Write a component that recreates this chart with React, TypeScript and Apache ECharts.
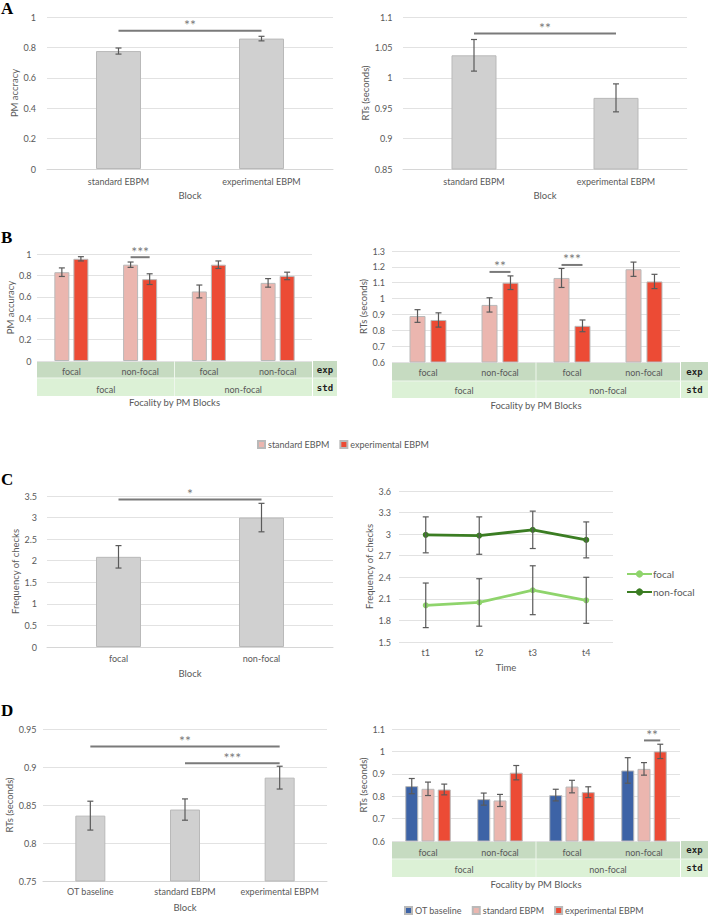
import React, { useEffect, useRef } from "react";
import * as echarts from "echarts";

// ---------- Panel A ----------
const blockAB = ["standard EBPM", "experimental EBPM"];
const pmAccuracyA = [0.776, 0.858];
const pmAccuracyErrA = [0.02, 0.015];
const rtA = [1.037, 0.967];
const rtErrA = [0.026, 0.023];

// ---------- Panel B ----------
const focalityExp = ["focal", "non-focal", "focal", "non-focal"];
const focalityStd = ["focal", "non-focal"];
const pmAccStdB = [0.83, 0.9, 0.65, 0.73];
const pmAccStdErrB = [0.04, 0.025, 0.06, 0.04];
const pmAccExpB = [0.955, 0.765, 0.9, 0.795];
const pmAccExpErrB = [0.02, 0.05, 0.035, 0.035];
const rtStdB = [0.89, 0.96, 1.13, 1.185];
const rtStdErrB = [0.04, 0.045, 0.06, 0.045];
const rtExpB = [0.865, 1.1, 0.828, 1.108];
const rtExpErrB = [0.045, 0.043, 0.037, 0.045];

// ---------- Panel C ----------
const blockC = ["focal", "non-focal"];
const checksC = [2.09, 3.0];
const checksErrC = [0.26, 0.33];
const timePoints = ["t1", "t2", "t3", "t4"];
const checksFocal = [2.01, 2.05, 2.22, 2.08];
const checksFocalErr = [0.31, 0.33, 0.34, 0.32];
const checksNonFocal = [2.99, 2.98, 3.06, 2.92];
const checksNonFocalErr = [0.25, 0.26, 0.26, 0.25];

// ---------- Panel D ----------
const blockD = ["OT baseline", "standard EBPM", "experimental EBPM"];
const rtD = [0.836, 0.844, 0.886];
const rtErrD = [0.019, 0.014, 0.015];
const rtOtD = [0.845, 0.787, 0.805, 0.915];
const rtOtErrD = [0.034, 0.027, 0.026, 0.057];
const rtStdD = [0.833, 0.781, 0.843, 0.922];
const rtStdErrD = [0.03, 0.027, 0.028, 0.028];
const rtExpD = [0.83, 0.905, 0.818, 1.0];
const rtExpErrD = [0.024, 0.032, 0.024, 0.032];

// Significance marks: [fromCategory, fromBarSlot, toCategory, toBarSlot, y, stars]
const sigAccA = [[0, 0, 1, 0, 0.91, "**"]];
const sigRtA = [[0, 0, 1, 0, 1.073, "**"]];
const sigAccB = [[1, 0, 1, 1, 0.97, "***"]];
const sigRtB = [
  [1, 0, 1, 1, 1.168, "**"],
  [2, 0, 2, 1, 1.212, "***"],
];
const sigChecksC = [[0, 0, 1, 0, 3.42, "*"]];
const sigRtD = [
  [0, 0, 2, 0, 0.927, "**"],
  [1, 0, 2, 0, 0.905, "***"],
];
const sigRtDGroups = [[3, 1, 3, 2, 1.049, "**"]];

// ---------- styling ----------
const FONT = "Lato";
const TEXT = "#595959";
const GRIDLINE = "#e2e2e2";
const GRAY_BAR = "#d0d0d0";
const PINK = "#ebb6af";
const RED = "#ec4b35";
const BLUE = "#3d63a6";
const LIGHT_GREEN = "#8fd46c";
const DARK_GREEN = "#3b7d23";
const EXP_ROW = "#c6dbc1";
const STD_ROW = "#dcf1d6";

const G = [
  { left: 47, top: 17, width: 286, height: 152 }, // A left
  { left: 403, top: 17, width: 284, height: 152 }, // A right
  { left: 37, top: 254, width: 275, height: 107 }, // B left
  { left: 392, top: 251, width: 288, height: 111 }, // B right
  { left: 47, top: 496, width: 286, height: 151 }, // C left
  { left: 399, top: 491, width: 214, height: 151 }, // C right
  { left: 43, top: 729, width: 284, height: 152 }, // D left
  { left: 392, top: 729, width: 288, height: 112 }, // D right
];

const nameStyle = { color: TEXT, fontSize: 9.5, fontFamily: FONT };

function yAxis(gridIndex: number, min: number, max: number, interval: number, name: string, nameGap: number, margin: number) {
  return {
    type: "value",
    gridIndex,
    min,
    max,
    interval,
    name,
    nameLocation: "middle",
    nameGap,
    nameTextStyle: nameStyle,
    axisLine: { show: false },
    axisTick: { show: false },
    axisLabel: { color: TEXT, fontSize: 9, fontFamily: FONT, margin },
    splitLine: { lineStyle: { color: GRIDLINE, width: 1 } },
  };
}

function xAxis(gridIndex: number, data: string[], margin: number, name: string, nameGap: number, showLine: boolean) {
  return {
    type: "category",
    gridIndex,
    data,
    position: "bottom",
    axisLine: { show: showLine, lineStyle: { color: "#d6d6d6", width: 1 } },
    axisTick: { show: false },
    splitLine: { show: false },
    axisLabel: { color: TEXT, fontSize: 9, fontFamily: FONT, margin, interval: 0 },
    name,
    nameLocation: "middle",
    nameGap,
    nameTextStyle: nameStyle,
  };
}

function bars(name: string, xi: number, yi: number, data: number[], color: string, barWidth: number, barGap = "0%") {
  return {
    type: "bar",
    name,
    xAxisIndex: xi,
    yAxisIndex: yi,
    data,
    barWidth,
    barGap,
    itemStyle: { color, borderColor: "#b9b9b9", borderWidth: 1 },
    z: 2,
  };
}

// Error whiskers centred on a bar slot inside a category
function errors(xi: number, yi: number, values: number[], errs: number[], slot: number, slotCount: number, step: number, cap = 6) {
  return {
    type: "custom",
    xAxisIndex: xi,
    yAxisIndex: yi,
    silent: true,
    z: 4,
    encode: { x: 0, y: [1, 2] },
    data: values.map((v, i) => [i, v - errs[i], v + errs[i]]),
    renderItem: (_p: any, api: any) => {
      const off = (slot - (slotCount - 1) / 2) * step;
      const lo = api.coord([api.value(0), api.value(1)]);
      const hi = api.coord([api.value(0), api.value(2)]);
      const x = lo[0] + off;
      const st = { stroke: "#5a5a5a", lineWidth: 1.2 };
      return {
        type: "group",
        children: [
          { type: "line", shape: { x1: x, y1: lo[1], x2: x, y2: hi[1] }, style: st },
          { type: "line", shape: { x1: x - cap / 2, y1: lo[1], x2: x + cap / 2, y2: lo[1] }, style: st },
          { type: "line", shape: { x1: x - cap / 2, y1: hi[1], x2: x + cap / 2, y2: hi[1] }, style: st },
        ],
      };
    },
  };
}

// Significance brackets drawn between two bar slots
function sig(xi: number, yi: number, marks: any[], slotCount: number, step: number) {
  return {
    type: "custom",
    xAxisIndex: xi,
    yAxisIndex: yi,
    silent: true,
    z: 5,
    encode: { x: [0, 1], y: 2 },
    data: marks.map((m) => [m[0], m[2], m[4]]),
    renderItem: (p: any, api: any) => {
      const m = marks[p.dataIndex];
      const off = (s: number) => (s - (slotCount - 1) / 2) * step;
      const a = api.coord([api.value(0), api.value(2)]);
      const b = api.coord([api.value(1), api.value(2)]);
      const x1 = a[0] + off(m[1]);
      const x2 = b[0] + off(m[3]);
      return {
        type: "group",
        children: [
          { type: "line", shape: { x1, y1: a[1], x2, y2: a[1] }, style: { stroke: "#7a7a7a", lineWidth: 2 } },
          {
            type: "text",
            style: {
              text: m[5],
              x: (x1 + x2) / 2,
              y: a[1] + 1,
              align: "center",
              verticalAlign: "bottom",
              fill: "#7a7a7a",
              fontSize: 14,
              fontFamily: FONT,
            },
          },
        ],
      };
    },
  };
}

// Two-level category table under the grouped bar panels
function table(g: any, expH: number, stdH: number, colLeft: number, colRight: number, expTextY: number, stdTextY: number) {
  const top = g.top + g.height;
  const mid = g.left + g.width / 2;
  const colMid = (colLeft + colRight) / 2;
  const labelFont = { fontSize: 9, fontFamily: "DejaVu Sans Mono", fontWeight: "bold", fill: "#1f1f1f" };
  return [
    { type: "rect", silent: true, z: 0, shape: { x: g.left, y: top, width: g.width, height: expH }, style: { fill: EXP_ROW } },
    { type: "rect", silent: true, z: 0, shape: { x: g.left, y: top + expH, width: g.width, height: stdH }, style: { fill: STD_ROW } },
    { type: "rect", silent: true, z: 0, shape: { x: colLeft, y: top, width: colRight - colLeft, height: expH }, style: { fill: EXP_ROW } },
    { type: "rect", silent: true, z: 0, shape: { x: colLeft, y: top + expH, width: colRight - colLeft, height: stdH }, style: { fill: STD_ROW } },
    { type: "line", silent: true, z: 1, shape: { x1: g.left, y1: top + expH, x2: colRight, y2: top + expH }, style: { stroke: "#eef6ec", lineWidth: 1 } },
    { type: "line", silent: true, z: 1, shape: { x1: mid, y1: top, x2: mid, y2: top + expH + stdH }, style: { stroke: "#eef6ec", lineWidth: 1 } },
    { type: "text", silent: true, z: 2, style: { text: "exp", x: colMid, y: expTextY, align: "center", verticalAlign: "middle", ...labelFont } },
    { type: "text", silent: true, z: 2, style: { text: "std", x: colMid, y: stdTextY, align: "center", verticalAlign: "middle", ...labelFont } },
  ];
}

function letter(text: string, y: number) {
  return {
    type: "text",
    silent: true,
    style: {
      text,
      x: 1,
      y,
      align: "left",
      verticalAlign: "middle",
      fontSize: 17,
      fontWeight: "bold",
      fontFamily: "Liberation Serif",
      fill: "#000",
    },
  };
}

const STEP_B_L = 15 * 1.27;
const STEP_B_R = 16 * 1.31;
const STEP_D_R = 13 * 1.25;

const legendText = { color: TEXT, fontSize: 9, fontFamily: FONT, padding: [0, 0, 0, -2] };

function buildOption() {
  return {
    animation: false,
    backgroundColor: "#ffffff",
    textStyle: { fontFamily: FONT },
    grid: G.map((g) => ({ ...g, containLabel: false })),
    xAxis: [
      xAxis(0, blockAB, 7.5, "Block", 21, true), // 0
      xAxis(1, blockAB, 7.5, "Block", 21, true), // 1
      xAxis(2, focalityExp, 6, "", 0, false), // 2
      xAxis(2, focalityStd, 23.5, "Focality by PM Blocks", 36.5, false), // 3
      xAxis(3, focalityExp, 5.5, "", 0, false), // 4
      xAxis(3, focalityStd, 24, "Focality by PM Blocks", 38.5, false), // 5
      xAxis(4, blockC, 7, "Block", 21.5, true), // 6
      xAxis(5, timePoints, 6, "Time", 20.5, false), // 7
      xAxis(6, blockD, 6, "Block", 21.5, true), // 8
      xAxis(7, focalityExp, 6.5, "", 0, false), // 9
      xAxis(7, focalityStd, 23.8, "Focality by PM Blocks", 38.5, false), // 10
    ],
    yAxis: [
      yAxis(0, 0, 1, 0.2, "PM accracy", 23, 11),
      yAxis(1, 0.85, 1.1, 0.05, "RTs (seconds)", 27.5, 10.5),
      yAxis(2, 0, 1, 0.2, "PM accuracy", 22, 5.5),
      yAxis(3, 0.6, 1.3, 0.1, "RTs (seconds)", 23, 7),
      yAxis(4, 0, 3.5, 0.5, "Frequency of checks", 24, 10),
      yAxis(5, 1.5, 3.6, 0.3, "Frequency of checks", 23.5, 8),
      yAxis(6, 0.75, 0.95, 0.05, "RTs (seconds)", 25, 6.5),
      yAxis(7, 0.6, 1.1, 0.1, "RTs (seconds)", 23, 7),
    ],
    legend: [
      {
        data: ["standard EBPM", "experimental EBPM"],
        left: 257,
        top: 440,
        padding: 0,
        itemWidth: 7,
        itemHeight: 7,
        itemGap: 10,
        icon: "rect",
        selectedMode: false,
        textStyle: legendText,
      },
      {
        data: ["focal", "non-focal"],
        orient: "vertical",
        left: 626,
        top: 569,
        padding: 0,
        itemWidth: 25,
        itemHeight: 9,
        itemGap: 8,
        selectedMode: false,
        textStyle: { color: TEXT, fontSize: 10, fontFamily: FONT, padding: [0, 0, 0, -4] },
      },
      {
        data: ["OT baseline", "standard EBPM", "experimental EBPM"],
        left: 404,
        top: 906,
        padding: 0,
        itemWidth: 7,
        itemHeight: 7,
        itemGap: 10,
        icon: "rect",
        selectedMode: false,
        textStyle: legendText,
      },
    ],
    series: [
      // A
      bars("PM accuracy", 0, 0, pmAccuracyA, GRAY_BAR, 45),
      errors(0, 0, pmAccuracyA, pmAccuracyErrA, 0, 1, 0),
      sig(0, 0, sigAccA, 1, 0),
      bars("RTs", 1, 1, rtA, GRAY_BAR, 45),
      errors(1, 1, rtA, rtErrA, 0, 1, 0),
      sig(1, 1, sigRtA, 1, 0),
      // B
      bars("standard EBPM", 2, 2, pmAccStdB, PINK, 15, "27%"),
      bars("experimental EBPM", 2, 2, pmAccExpB, RED, 15, "27%"),
      errors(2, 2, pmAccStdB, pmAccStdErrB, 0, 2, STEP_B_L),
      errors(2, 2, pmAccExpB, pmAccExpErrB, 1, 2, STEP_B_L),
      sig(2, 2, sigAccB, 2, STEP_B_L),
      bars("standard EBPM", 4, 3, rtStdB, PINK, 16, "31%"),
      bars("experimental EBPM", 4, 3, rtExpB, RED, 16, "31%"),
      errors(4, 3, rtStdB, rtStdErrB, 0, 2, STEP_B_R),
      errors(4, 3, rtExpB, rtExpErrB, 1, 2, STEP_B_R),
      sig(4, 3, sigRtB, 2, STEP_B_R),
      // C
      bars("Checks", 6, 4, checksC, GRAY_BAR, 45),
      errors(6, 4, checksC, checksErrC, 0, 1, 0),
      sig(6, 4, sigChecksC, 1, 0),
      {
        type: "line",
        name: "focal",
        xAxisIndex: 7,
        yAxisIndex: 5,
        data: checksFocal,
        symbol: "circle",
        symbolSize: 6,
        color: LIGHT_GREEN,
        lineStyle: { width: 2.8, color: LIGHT_GREEN },
        itemStyle: { color: LIGHT_GREEN },
        z: 3,
      },
      {
        type: "line",
        name: "non-focal",
        xAxisIndex: 7,
        yAxisIndex: 5,
        data: checksNonFocal,
        symbol: "circle",
        symbolSize: 6,
        color: DARK_GREEN,
        lineStyle: { width: 2.8, color: DARK_GREEN },
        itemStyle: { color: DARK_GREEN },
        z: 3,
      },
      errors(7, 5, checksFocal, checksFocalErr, 0, 1, 0),
      errors(7, 5, checksNonFocal, checksNonFocalErr, 0, 1, 0),
      // D
      bars("RTs D", 8, 6, rtD, GRAY_BAR, 30),
      errors(8, 6, rtD, rtErrD, 0, 1, 0),
      sig(8, 6, sigRtD, 1, 0),
      bars("OT baseline", 9, 7, rtOtD, BLUE, 13, "25%"),
      bars("standard EBPM", 9, 7, rtStdD, PINK, 13, "25%"),
      bars("experimental EBPM", 9, 7, rtExpD, RED, 13, "25%"),
      errors(9, 7, rtOtD, rtOtErrD, 0, 3, STEP_D_R),
      errors(9, 7, rtStdD, rtStdErrD, 1, 3, STEP_D_R),
      errors(9, 7, rtExpD, rtExpErrD, 2, 3, STEP_D_R),
      sig(9, 7, sigRtDGroups, 3, STEP_D_R),
    ],
    graphic: [
      ...table(G[2], 17, 18, 313, 337, 370, 387.5),
      ...table(G[3], 19, 17, 681, 708, 371.5, 389.5),
      ...table(G[7], 18, 18, 681, 708, 850, 867.5),
      letter("A", 8),
      letter("B", 237),
      letter("C", 479),
      letter("D", 710),
    ],
  };
}

export default function App() {
  const ref = useRef<HTMLDivElement | null>(null);
  useEffect(() => {
    if (!ref.current) return;
    const chart = echarts.init(ref.current, null, { renderer: "svg" });
    chart.setOption(buildOption() as any);
    return () => chart.dispose();
  }, []);
  return (
    <div
      ref={ref}
      style={{ position: "absolute", left: 0, top: 0, width: 708, height: 917, background: "#ffffff" }}
    />
  );
}
